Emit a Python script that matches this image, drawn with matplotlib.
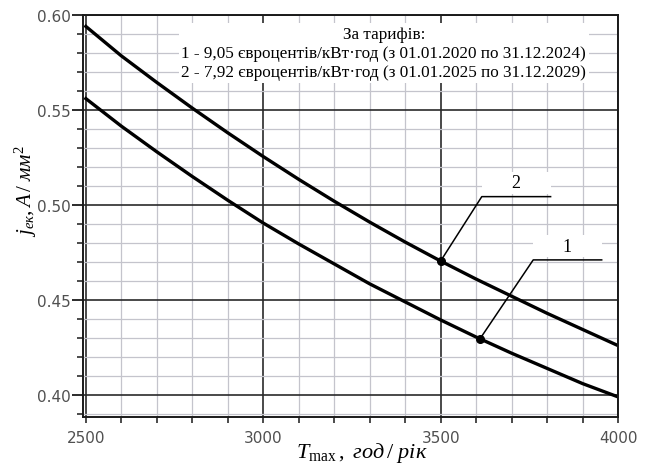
import numpy as np
import matplotlib
matplotlib.use('Agg')
import matplotlib.pyplot as plt
from matplotlib.patches import Rectangle
from matplotlib.ticker import MultipleLocator, FormatStrFormatter

plt.rcParams['mathtext.fontset'] = 'custom'
plt.rcParams['mathtext.rm'] = 'Liberation Serif'
plt.rcParams['mathtext.it'] = 'Liberation Serif:italic'

# T_max, год/рік
t_max = [2500, 2600, 2700, 2800, 2900, 3000, 3100, 3200,
         3300, 3400, 3500, 3600, 3700, 3800, 3900, 4000]
# curve 1: 9,05 євроцентів/кВт·год
j_ek_1 = [0.556, 0.5415, 0.528, 0.515, 0.5025, 0.4905, 0.4795, 0.469,
          0.4585, 0.449, 0.4395, 0.4305, 0.422, 0.414, 0.406, 0.399]
# curve 2: 7,92 євроцентів/кВт·год
j_ek_2 = [0.594, 0.5785, 0.5645, 0.551, 0.538, 0.5255, 0.5135, 0.502,
          0.491, 0.4805, 0.4705, 0.461, 0.452, 0.443, 0.4345, 0.426]

legend_lines = [
    'За тарифів:',
    '1 - 9,05 євроцентів/кВт·год (з 01.01.2020 по 31.12.2024)',
    '2 - 7,92 євроцентів/кВт·год (з 01.01.2025 по 31.12.2029)',
]

fig = plt.figure(figsize=(6.47, 4.64), dpi=100)
ax = fig.add_axes([0.1283, 0.0991, 0.8269, 0.8664])

ax.set_xlim(2492, 4000)
ax.set_ylim(0.3884, 0.60)

ax.xaxis.set_major_locator(MultipleLocator(500))
ax.xaxis.set_minor_locator(MultipleLocator(100))
ax.yaxis.set_major_locator(MultipleLocator(0.05))
ax.yaxis.set_minor_locator(MultipleLocator(0.01))
ax.yaxis.set_major_formatter(FormatStrFormatter('%.2f'))

ax.grid(which='minor', color='#c4c4cc', lw=0.9)
ax.grid(which='major', color='#2a2a2a', lw=1.2)
ax.set_axisbelow(True)

for s in ax.spines.values():
    s.set_color('#1a1a1a')
    s.set_linewidth(1.4)

ax.tick_params(axis='y', which='major', length=8, width=1.3, color='#1a1a1a',
               labelsize=11, labelcolor='#505050', pad=1)
ax.tick_params(axis='y', which='minor', length=4, width=1.1, color='#1a1a1a')
ax.tick_params(axis='x', which='both', length=4, width=1.1, color='#1a1a1a',
               labelsize=11, labelcolor='#505050', pad=5)

ax.plot(t_max, j_ek_1, color='black', lw=2.4)
ax.plot(t_max, j_ek_2, color='black', lw=2.4)

serif = 'Liberation Serif'

# legend block
ax.text(3340, 0.5800, '\n'.join(legend_lines), ha='center', va='center',
        fontsize=12.3, family=serif, linespacing=1.27,
        bbox=dict(fc='white', ec='none', pad=2))

# curve labels with leader lines
def leader(label, t_dot, t_curve, j_curve, elbow, t_end):
    j_dot = np.interp(t_dot, t_curve, j_curve)
    ax.add_patch(Rectangle((elbow[0], elbow[1] + 0.0015), t_end - elbow[0], 0.0115,
                           fc='white', ec='none', zorder=2))
    ax.plot([t_dot, elbow[0], t_end], [j_dot, elbow[1], elbow[1]],
            color='black', lw=1.1, zorder=3)
    ax.plot([t_dot], [j_dot], 'o', color='black', ms=5.5, zorder=4)
    ax.text((elbow[0] + t_end) / 2, elbow[1] + 0.0073, label, ha='center',
            va='center', fontsize=13, family=serif, zorder=4)

leader('2', 3500, t_max, j_ek_2, (3616, 0.5044), 3810)
leader('1', 3611, t_max, j_ek_1, (3761, 0.4711), 3954)

ax.set_xlabel(r'$T_{\mathrm{max}}\,,\ год\,/\ рік$', fontsize=16)
ax.xaxis.set_label_coords(0.5215, -0.058)
ax.set_ylabel(r'$j_{ек}, A\,/\ мм^2$', fontsize=15)
ax.yaxis.set_label_coords(-0.083, 0.565)

fig.savefig('out.png', dpi=100)
